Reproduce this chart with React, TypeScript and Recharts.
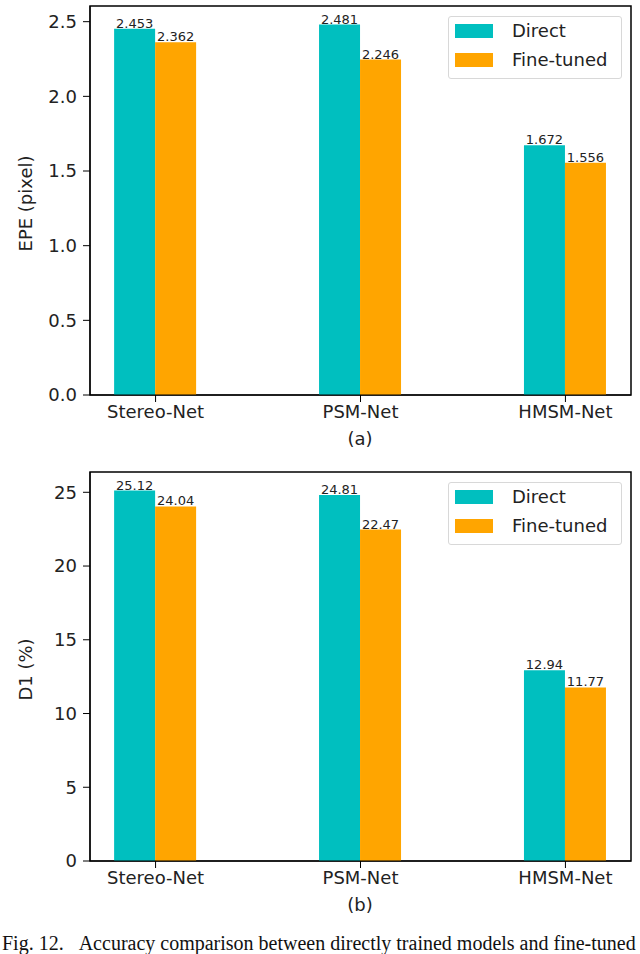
import React from "react"
import { Bar, BarChart, XAxis, YAxis, LabelList, Legend, ReferenceArea } from "recharts"

const categories = ["Stereo-Net", "PSM-Net", "HMSM-Net"]
const seriesNames = ["Direct", "Fine-tuned"]

const epeDirect = [2.453, 2.481, 1.672]
const epeFineTuned = [2.362, 2.246, 1.556]
const epeTicks = [0, 0.5, 1.0, 1.5, 2.0, 2.5]

const d1Direct = [25.12, 24.81, 12.94]
const d1FineTuned = [24.04, 22.47, 11.77]
const d1Ticks = [0, 5, 10, 15, 20, 25]

const FONT = "'DejaVu Sans', sans-serif"
const TEAL = "#00bfbf"
const ORANGE = "#ffa500"

const legendContent = () => (
  <div
    style={{
      width: 172,
      height: 61,
      border: "1px solid #d8d8d8",
      borderRadius: 3,
      background: "#fff",
      fontFamily: FONT,
      fontSize: 18,
      position: "relative",
    }}
  >
    {seriesNames.map((name, i) => (
      <div key={name} style={{ position: "absolute", left: 6, top: 6 + i * 29, height: 15, display: "flex", alignItems: "center" }}>
        <div style={{ width: 38, height: 14, background: i === 0 ? TEAL : ORANGE }} />
        <span style={{ marginLeft: 19, lineHeight: "15px", color: "#222" }}>{name}</span>
      </div>
    ))}
  </div>
)

interface PanelProps {
  direct: number[]
  fineTuned: number[]
  ticks: number[]
  yLabel: string
  caption: string
  digits: number
  top: number
}

function Panel({ direct, fineTuned, ticks, yLabel, caption, digits, top }: PanelProps) {
  const data = categories.map((name, i) => ({ pos: i, name, direct: direct[i], fineTuned: fineTuned[i] }))
  // matplotlib-style 5% headroom over the tallest bar
  const yMax = Math.max(...direct, ...fineTuned) * 1.05

  return (
    <div style={{ position: "absolute", left: 0, top, width: 640, height: 470 }}>
      <BarChart width={640} height={430} data={data} margin={{ top: 6, right: 9, bottom: 5, left: 0 }} barGap={0}>
        <XAxis
          dataKey="pos"
          type="number"
          domain={[-0.32, 2.32]}
          ticks={[0, 1, 2]}
          allowDataOverflow
          tickFormatter={(v: number) => categories[v]}
          height={30}
          tickSize={7}
          tickMargin={3}
          stroke="#000"
          tick={{ fill: "#222", fontSize: 18, fontFamily: FONT }}
        />
        <YAxis
          type="number"
          domain={[0, yMax]}
          ticks={ticks}
          allowDataOverflow
          width={90}
          tickSize={7}
          tickMargin={6}
          stroke="#000"
          tickFormatter={(v: number) => v.toFixed(digits)}
          tick={{ fill: "#222", fontSize: 18, fontFamily: FONT }}
          label={({ viewBox }: any) => {
            const cy = viewBox.y + viewBox.height / 2 + 3
            return (
              <text x={32} y={cy} transform={`rotate(-90, 32, ${cy})`} textAnchor="middle" fontSize={18} fontFamily={FONT} fill="#222">
                {yLabel}
              </text>
            )
          }}
        />
        <ReferenceArea x1={-0.32} x2={2.32} y1={0} y2={yMax} fill="none" stroke="#000" strokeWidth={1.5} ifOverflow="visible" />
        <Legend
          layout="vertical"
          align="center"
          verticalAlign="middle"
          content={legendContent}
          wrapperStyle={{ top: 16, left: 448, width: 174, height: 63 }}
        />
        <Bar dataKey="direct" name="Direct" fill={TEAL} barSize={41} isAnimationActive={false}>
          <LabelList dataKey="direct" position="top" offset={1} fontSize={13} fontFamily={FONT} fill="#222" />
        </Bar>
        <Bar dataKey="fineTuned" name="Fine-tuned" fill={ORANGE} barSize={41} isAnimationActive={false}>
          <LabelList dataKey="fineTuned" position="top" offset={1} fontSize={13} fontFamily={FONT} fill="#222" />
        </Bar>
      </BarChart>
      <div
        style={{
          position: "absolute",
          left: 260,
          width: 200,
          top: 428,
          textAlign: "center",
          fontFamily: FONT,
          fontSize: 18,
          color: "#222",
        }}
      >
        {caption}
      </div>
    </div>
  )
}

export default function App() {
  return (
    <div style={{ position: "fixed", left: 0, top: 0, width: 640, height: 954, overflow: "hidden", background: "#fff" }}>
      <Panel direct={epeDirect} fineTuned={epeFineTuned} ticks={epeTicks} yLabel="EPE (pixel)" caption="(a)" digits={1} top={0} />
      <Panel direct={d1Direct} fineTuned={d1FineTuned} ticks={d1Ticks} yLabel="D1 (%)" caption="(b)" digits={0} top={466} />
      <div
        style={{
          position: "absolute",
          left: 2,
          top: 932,
          whiteSpace: "nowrap",
          fontFamily: "'Liberation Serif', serif",
          fontSize: 20,
          color: "#111",
        }}
      >
        Fig. 12.&nbsp;&nbsp;&nbsp;Accuracy comparison between directly trained models and fine-tuned
      </div>
    </div>
  )
}
